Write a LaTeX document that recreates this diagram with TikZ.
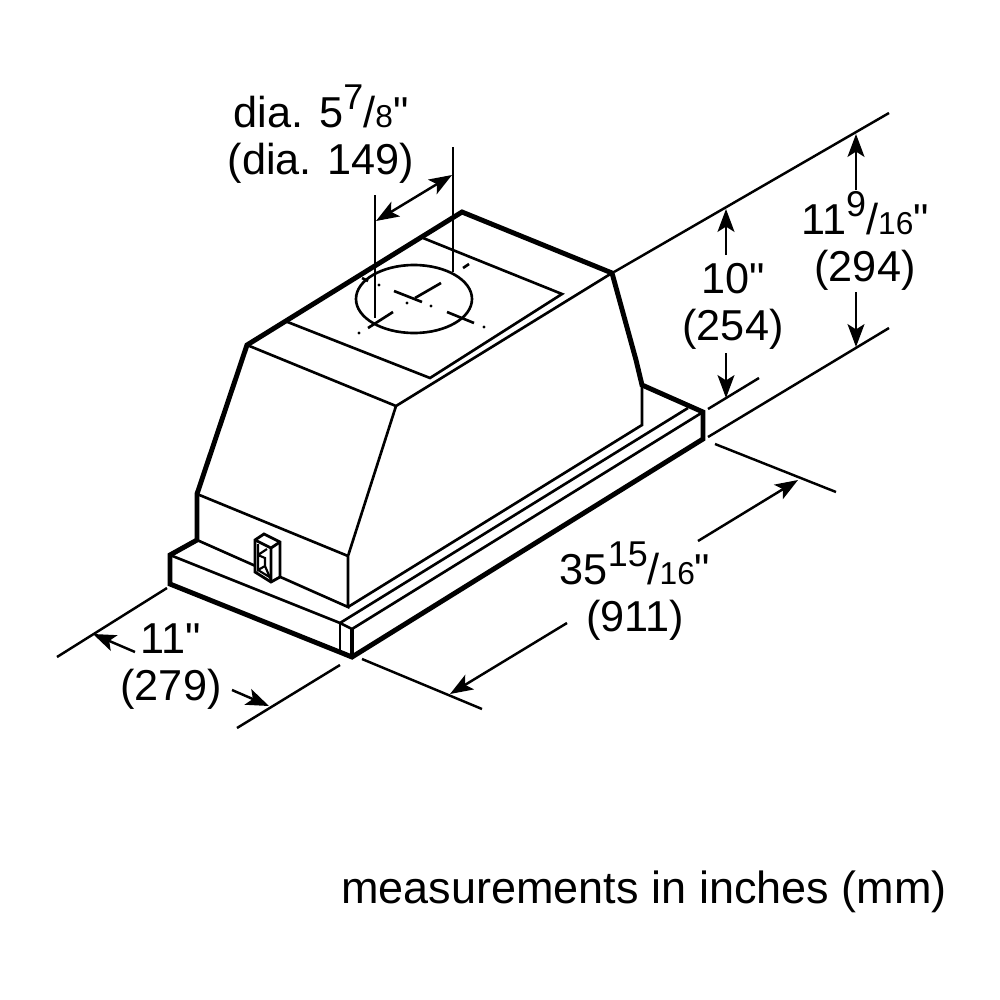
\documentclass[tikz,border=0pt]{standalone}
\usepackage{fontspec}
\setmainfont{Liberation Sans}
\usetikzlibrary{arrows.meta}

\font\quotefont="Liberation Sans" at 12.3pt
\newcommand{\frc}[2]{\raisebox{.42em}{\fontsize{10.2}{10}\selectfont #1}/{\fontsize{9}{10}\selectfont #2}}
\newcommand{\inch}{{\quotefont\char34}}

\tikzset{
    hull/.style={line width=1.4pt, line join=miter},
    edgeline/.style={line width=.75pt},
    extline/.style={line width=.7pt},
    dimarrow/.style={line width=.7pt, -{Stealth[length=6.5pt, width=4.8pt, inset=1.5pt]}},
    dimboth/.style={line width=.7pt, {Stealth[length=6.5pt, width=4.8pt, inset=1.5pt]}-{Stealth[length=6.5pt, width=4.8pt, inset=1.5pt]}},
    dimlabel/.style={align=center, inner sep=0pt, font=\fontsize{12.3}{13.4}\selectfont}
}

\begin{document}
\begin{tikzpicture}[x=.01cm, y=-.01cm]
    \useasboundingbox (0,0) rectangle (1000,1000);

    % outline corners
    \coordinate (apex) at (462,212);
    \coordinate (backtop) at (612,273);
    \coordinate (backbend) at (636,360);
    \coordinate (backlow) at (642,385);
    \coordinate (flangeback) at (703,412);
    \coordinate (flangeback2) at (703,439);
    \coordinate (flangefront) at (352,657);
    \coordinate (flangeleft) at (170,584);
    \coordinate (flangeleft2) at (170,555);
    \coordinate (sideleft) at (197,540);
    \coordinate (sidemid) at (197,494);
    \coordinate (topleft) at (247,345);
    \coordinate (topfront) at (396,406);
    \coordinate (midfront) at (348,556);
    \coordinate (basefront) at (348,607);
    \coordinate (baseback) at (642,425);
    \coordinate (stripfront) at (340,623);
    \coordinate (stripfront2) at (340,650);
    \coordinate (stripback) at (688,408);
    \coordinate (lipfront) at (352,629);

    \draw[hull] (apex) -- (backtop) -- (backbend) -- (backlow) -- (flangeback)
        -- (flangeback2) -- (flangefront) -- (flangeleft) -- (flangeleft2)
        -- (sideleft) -- (sidemid) -- (topleft) -- cycle;

    \draw[edgeline] (topleft) -- (topfront) -- (backtop);
    \draw[edgeline] (topfront) -- (midfront) -- (basefront) -- (sideleft);
    \draw[edgeline] (sidemid) -- (midfront);
    \draw[edgeline] (basefront) -- (baseback) -- (backlow);
    \draw[edgeline] (flangeleft2) -- (stripfront) -- (stripback);
    \draw[edgeline] (stripfront) -- (lipfront) -- (flangeback);
    \draw[edgeline] (stripfront) -- (stripfront2);
    \draw[line width=1pt] (lipfront) -- (flangefront);

    % recess on the top
    \coordinate (recessa) at (423,238);
    \coordinate (recessb) at (562,294);
    \coordinate (recessc) at (430,378);
    \coordinate (recessd) at (285,321);
    \draw[edgeline] (recessa) -- (recessb) -- (recessc) -- (recessd);
    \coordinate (recesstick) at (362,278);
    \coordinate (recesstick2) at (368,281);
    \draw[edgeline] (recesstick) -- (recesstick2);

    % duct collar
    \coordinate (collar) at (414,299);
    \draw[edgeline] (collar) ellipse [x radius=58, y radius=34];
    \draw[edgeline] (394,291) coordinate (axisa) -- (422,302) coordinate (axisb);
    \draw[edgeline] (415,298) coordinate (axisc) -- (441,283) coordinate (axisd);
    \draw[edgeline] (368,328) coordinate (axise) -- (393,312) coordinate (axisf);
    \draw[edgeline] (447,312) coordinate (axisg) -- (474,323) coordinate (axish);
    \draw[edgeline] (463,268) coordinate (axisi) -- (469,264) coordinate (axisj);
    \foreach \dotpos in {(379,285), (407,303), (431,306), (359,333), (484,327)}
        \fill \dotpos circle (1.6);

    % switch box
    \coordinate (boxa) at (255,540);
    \coordinate (boxb) at (264,534);
    \coordinate (boxc) at (280,542);
    \coordinate (boxd) at (280,577);
    \coordinate (boxe) at (271,582);
    \coordinate (boxf) at (255,572);
    \coordinate (boxg) at (271,548);
    \draw[fill=white, line width=.8pt] (boxa) -- (boxb) -- (boxc) -- (boxd) -- (boxe) -- (boxf) -- cycle;
    \draw[line width=.8pt] (boxa) -- (boxg) -- (boxc) (boxg) -- (boxe);
    \draw[line width=.6pt] (258,555) -- (267,549) (258,544) -- (258,570) -- (265,566) -- (271,580)
        (265,566) -- (265,558) -- (258,555) (258,570) -- (271,578);

    % duct diameter
    \coordinate (diaa) at (375,195);
    \coordinate (diaa2) at (375,318);
    \coordinate (diab) at (453,147);
    \coordinate (diab2) at (453,272);
    \coordinate (diatipa) at (376,221);
    \coordinate (diatipb) at (452,175);
    \draw[extline] (diaa) -- (diaa2);
    \draw[extline] (diab) -- (diab2);
    \draw[dimboth] (diatipa) -- (diatipb);
    \node[dimlabel] (dialabel) at (321,134) {dia. 5\frc{7}{8}\inch\\(dia. 149)};

    % heights
    \coordinate (hightop) at (614,272);
    \coordinate (hightop2) at (889,113);
    \coordinate (tenlow) at (708,409);
    \coordinate (tenlow2) at (759,378);
    \coordinate (elevlow) at (708,437);
    \coordinate (elevlow2) at (889,328);
    \draw[extline] (hightop) -- (hightop2);
    \draw[extline] (tenlow) -- (tenlow2);
    \draw[extline] (elevlow) -- (elevlow2);

    \node[dimlabel] (tenlabel) at (733,306) {10\inch\\(254)};
    \coordinate (tentop) at (726,209);
    \coordinate (tentail) at (726,255);
    \coordinate (tenbot) at (726,398);
    \coordinate (tentail2) at (726,353);
    \draw[dimarrow] (tentail) -- (tentop);
    \draw[dimarrow] (tentail2) -- (tenbot);

    \node[dimlabel] (elevlabel) at (865,241) {11\frc{9}{16}\inch\\(294)};
    \coordinate (elevtop) at (856,134);
    \coordinate (elevtail) at (856,190);
    \coordinate (elevbot) at (856,347);
    \coordinate (elevtail2) at (856,292);
    \draw[dimarrow] (elevtail) -- (elevtop);
    \draw[dimarrow] (elevtail2) -- (elevbot);

    % length
    \coordinate (lena) at (715,444);
    \coordinate (lena2) at (836,492);
    \coordinate (lenb) at (362,659);
    \coordinate (lenb2) at (482,709);
    \draw[extline] (lena) -- (lena2);
    \draw[extline] (lenb) -- (lenb2);
    \node[dimlabel] (lenlabel) at (635,591) {35\frc{15}{16}\inch\\(911)};
    \coordinate (lentail) at (698,541);
    \coordinate (lentip) at (798,480);
    \coordinate (lentail2) at (567,623);
    \coordinate (lentip2) at (450,694);
    \draw[dimarrow] (lentail) -- (lentip);
    \draw[dimarrow] (lentail2) -- (lentip2);

    % width
    \coordinate (wida) at (167,588);
    \coordinate (wida2) at (57,657);
    \coordinate (widb) at (340,665);
    \coordinate (widb2) at (237,728);
    \draw[extline] (wida) -- (wida2);
    \draw[extline] (widb) -- (widb2);
    \node[dimlabel] (widlabel) at (171,667) {11\inch\\(279)};
    \coordinate (widtail) at (135,652);
    \coordinate (widtip) at (93,634);
    \coordinate (widtail2) at (232,690);
    \coordinate (widtip2) at (269,706);
    \draw[dimarrow] (widtail) -- (widtip);
    \draw[dimarrow] (widtail2) -- (widtip2);

    \node[inner sep=0pt, font=\fontsize{12.8}{15}\selectfont] (unitnote) at (644,892) {measurements in inches (mm)};
\end{tikzpicture}
\end{document}
